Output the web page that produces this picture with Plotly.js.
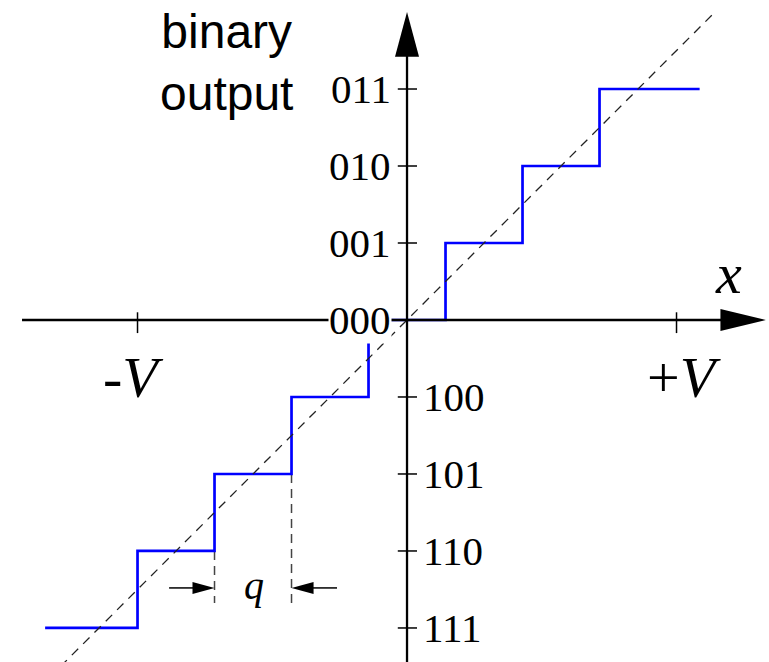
<!DOCTYPE html>
<html>
<head>
<meta charset="utf-8">
<script src="https://cdn.plot.ly/plotly-3.0.1.min.js"></script>
<style>html,body{margin:0;padding:0;background:#fff;}#chart{width:769px;height:662px;}</style>
</head>
<body>
<div id="chart"></div>
<script>
// ---- data ----
const levels = [-4, -3, -2, -1, 0, 1, 2, 3];
const codes = ['111', '110', '101', '100', '000', '001', '010', '011'];
const edges = [-4.7, -3.5, -2.5, -1.5, -0.5, 0.5, 1.5, 2.5, 3.8];
const idealX = [-4.5, 4.0];
const idealY = [-4.5, 4.0];
const vTicks = [-3.5, 3.5];
const vLabels = ['-<i>V</i>', '+<i>V</i>'];
const qEdges = [-2.5, -1.5];
const qLevels = [-3, -2];

// ---- geometry (style) ----
const xRange = [-5.286, 4.701];
const yRange = [-4.442, 4.156];
const axisColor = '#000';
const axW = 2.3;

const stairY = levels.concat([levels[levels.length - 1]]);

const traces = [
  { x: edges, y: stairY, mode: 'lines', line: { shape: 'hv', color: '#0000ff', width: 2.7 }, hoverinfo: 'skip' },
  { x: idealX, y: idealY, mode: 'lines', line: { color: '#222', width: 1.3, dash: '9px,7px' }, hoverinfo: 'skip' }
];

const shapes = [];
// x axis
shapes.push({ type: 'line', xref: 'x', yref: 'y', x0: -5.0, x1: 4.2, y0: 0, y1: 0, line: { color: axisColor, width: axW }, layer: 'above' });
shapes.push({ type: 'path', xref: 'x', yref: 'y', path: 'M 4.66,0 L 4.07,0.143 L 4.07,-0.143 Z', fillcolor: axisColor, line: { color: axisColor, width: 0 }, layer: 'above' });
// y axis
shapes.push({ type: 'line', xref: 'x', yref: 'y', x0: 0, x1: 0, y0: -4.5, y1: 3.6, line: { color: axisColor, width: axW }, layer: 'above' });
shapes.push({ type: 'path', xref: 'x', yref: 'y', path: 'M 0,4.0 L -0.156,3.42 L 0.156,3.42 Z', fillcolor: axisColor, line: { color: axisColor, width: 0 }, layer: 'above' });
// y ticks
levels.forEach(v => {
  if (v !== 0) shapes.push({ type: 'line', xref: 'x', yref: 'y', x0: -0.12, x1: 0.13, y0: v, y1: v, line: { color: axisColor, width: 1.5 }, layer: 'above' });
});
// x ticks
vTicks.forEach(v => {
  shapes.push({ type: 'line', xref: 'x', yref: 'y', x0: v, x1: v, y0: 0.1, y1: -0.17, line: { color: axisColor, width: 1.5 }, layer: 'above' });
});
// q dashed verticals
qEdges.forEach((xv, i) => {
  shapes.push({ type: 'line', xref: 'x', yref: 'y', x0: xv, x1: xv, y0: qLevels[i], y1: -3.675, line: { color: '#444', width: 1.5, dash: '9px,6px' }, layer: 'below' });
});
// q arrows
const qy = -3.48;
shapes.push({ type: 'line', xref: 'x', yref: 'y', x0: -3.09, x1: -2.75, y0: qy, y1: qy, line: { color: '#000', width: 1.5 } });
shapes.push({ type: 'path', xref: 'x', yref: 'y', path: `M -2.5,${qy} L -2.786,${qy + 0.078} L -2.786,${qy - 0.078} Z`, fillcolor: '#000', line: { width: 0 } });
shapes.push({ type: 'line', xref: 'x', yref: 'y', x0: -1.25, x1: -0.909, y0: qy, y1: qy, line: { color: '#000', width: 1.5 } });
shapes.push({ type: 'path', xref: 'x', yref: 'y', path: `M -1.5,${qy} L -1.214,${qy + 0.078} L -1.214,${qy - 0.078} Z`, fillcolor: '#000', line: { width: 0 } });

const serif = 'Liberation Serif, Times New Roman, serif';
const annotations = [];
levels.forEach((v, i) => {
  const pos = v >= 0;
  annotations.push({
    xref: 'x', yref: 'y', x: pos ? -0.2 : 0.19, y: v,
    xanchor: pos ? 'right' : 'left', yanchor: 'middle',
    text: codes[i], showarrow: false,
    font: { family: serif, size: 41, color: '#000' },
    bgcolor: v === 0 ? '#fff' : 'rgba(0,0,0,0)', borderpad: 0
  });
});
const vX = [-3.55, 3.6];
vTicks.forEach((v, i) => {
  annotations.push({
    xref: 'x', yref: 'y', x: vX[i], y: -0.75, xanchor: 'center', yanchor: 'middle',
    text: vLabels[i], showarrow: false, font: { family: serif, size: 58, color: '#000' }
  });
});
annotations.push({ xref: 'x', yref: 'y', x: 4.17, y: 0.6, xanchor: 'center', yanchor: 'middle', text: '<i>x</i>', showarrow: false, font: { family: serif, size: 58, color: '#000' } });
annotations.push({ xref: 'x', yref: 'y', x: -1.99, y: -3.45, xanchor: 'center', yanchor: 'middle', text: '<i>q</i>', showarrow: false, font: { family: serif, size: 40, color: '#000' } });
annotations.push({ xref: 'x', yref: 'y', x: -2.35, y: 4.12, xanchor: 'center', yanchor: 'top', text: 'binary<br>output', showarrow: false, align: 'center', font: { family: 'Liberation Sans, Arial, sans-serif', size: 48, color: '#000' } });

const layout = {
  width: 769, height: 662,
  margin: { l: 0, r: 0, t: 0, b: 0 },
  paper_bgcolor: '#fff', plot_bgcolor: '#fff',
  showlegend: false,
  xaxis: { range: xRange, visible: false, fixedrange: true },
  yaxis: { range: yRange, visible: false, fixedrange: true },
  shapes: shapes,
  annotations: annotations
};

Plotly.newPlot('chart', traces, layout, { staticPlot: true, displayModeBar: false });
</script>
</body>
</html>
